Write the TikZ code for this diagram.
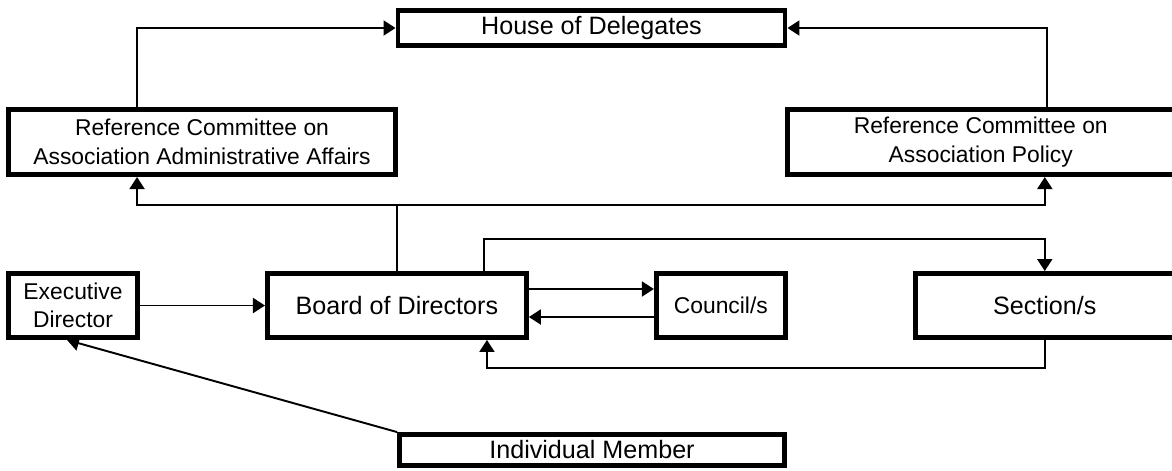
\documentclass[tikz,border=0pt]{standalone}
\usepackage{fontspec}
\setmainfont{Liberation Sans}
\usetikzlibrary{arrows.meta, positioning, calc}

\begin{document}
\begin{tikzpicture}[
    node distance=2.5cm,
    box/.style={rectangle, minimum height=1.28cm, text centered, align=center, draw=black, line width=2.8pt, font=\fontsize{14.3}{17}\selectfont},
    small/.style={box, minimum width=2.58cm, font=\fontsize{13}{15.9}\selectfont},
    long/.style={box, minimum width=5.18cm},
    wide/.style={box, minimum width=7.74cm, minimum height=0.7cm},
    committee/.style={box, minimum width=7.74cm, minimum height=1.3cm, font=\fontsize{13}{16.5}\selectfont},
    arrow/.style={line width=1.1pt, ->, >={Triangle[length=0.24cm, width=0.3cm]}, draw=black}
]
\useasboundingbox (0,0) rectangle (23.44,-9.4);

\node (exec) [small] at (1.46,-6.11) {Executive\\Director};
\node (board) [long, right=of exec] {Board of Directors};
\node (council) [small, right=of board] {Council/s};
\node (section) [long, right=of council] {Section/s};
\node (rcadmin) [committee, above=1.88cm of exec.north west, anchor=south west] {Reference Committee on\\Association Administrative Affairs};
\node (rcpolicy) [committee, above=1.88cm of section.north east, anchor=south east] {Reference Committee on\\Association Policy};
\node (house) [wide] at (11.83,-0.56) {House of Delegates};
\node (member) [wide, minimum width=7.7cm, minimum height=0.62cm] at (11.84,-9.0) {Individual Member};

\draw [arrow] ([xshift=2.62cm]rcadmin.north west) |- (house.west);
\draw [arrow] ([xshift=5.24cm]rcpolicy.north west) |- (house.east);

\coordinate (split) at ([yshift=1.32cm]board.north);
\draw [line width=1.1pt] (board.north) -- (split);
\draw [arrow] (split) -| ([xshift=2.62cm]rcadmin.south west);
\draw [arrow] (split) -| ([xshift=5.2cm]rcpolicy.south west);

\draw [arrow] (exec) -- (board);
\draw [arrow] ([yshift=0.33cm]board.east) -- ([yshift=0.33cm]council.west);
\draw [arrow] ([yshift=-0.23cm]council.west) -- ([yshift=-0.23cm]board.east);
\draw [arrow] ([xshift=4.38cm]board.north west) -- ++(0,0.64) -| (section.north);
\draw [arrow] (section.south) -- ++(0,-0.56) -| ([xshift=4.44cm]board.south west);
\draw [arrow] (member.north west) -- ([xshift=-0.12cm]exec.south);

\end{tikzpicture}
\end{document}
